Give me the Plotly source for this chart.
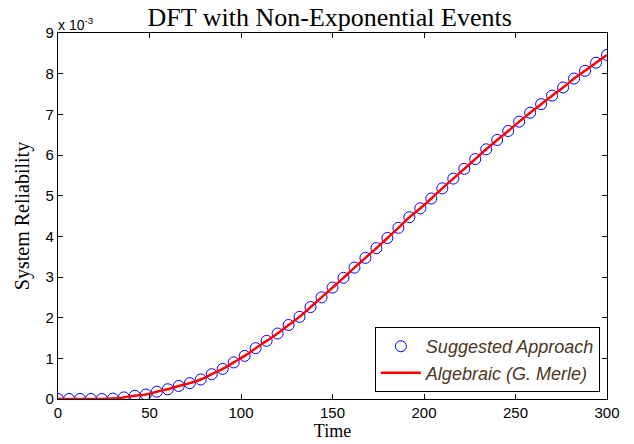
import plotly.graph_objects as go

# Time axis samples (every 6 time units)
time = list(range(0, 301, 6))

# System reliability, in units of 1e-3 (axis multiplier "x 10^-3")
suggested = [0.00, 0.00, 0.00, 0.00, 0.00, 0.01, 0.04, 0.08, 0.11, 0.18,
             0.24, 0.32, 0.39, 0.48, 0.61, 0.74, 0.90, 1.06, 1.25, 1.43,
             1.61, 1.82, 2.02, 2.26, 2.50, 2.74, 2.98, 3.23, 3.47, 3.71,
             3.96, 4.21, 4.47, 4.69, 4.93, 5.18, 5.42, 5.66, 5.90, 6.14,
             6.37, 6.59, 6.82, 7.04, 7.25, 7.46, 7.66, 7.88, 8.07, 8.27,
             8.46]
algebraic = list(suggested)

x_ticks = [0, 50, 100, 150, 200, 250, 300]
y_ticks = [0, 1, 2, 3, 4, 5, 6, 7, 8, 9]
y_ticktext = [str(v) for v in y_ticks]

SERIF = "Liberation Serif, Times New Roman, serif"
SANS = "Liberation Sans, Arial, sans-serif"

fig = go.Figure()
fig.add_trace(go.Scatter(
    x=time, y=suggested, mode="markers", name="Suggested Approach",
    marker=dict(symbol="circle-open", size=11, color="#0000ff",
                line=dict(width=1, color="#0000ff")),
))
fig.add_trace(go.Scatter(
    x=time, y=algebraic, mode="lines", name="Algebraic (G. Merle)",
    line=dict(color="#ff0000", width=2.5, shape="spline"),
))

axis_common = dict(
    showgrid=False, zeroline=False, showline=True, linecolor="black",
    linewidth=1.3, mirror="ticks", ticks="inside", ticklen=5,
    tickcolor="black", tickwidth=1, automargin=False,
    tickfont=dict(family=SANS, size=15, color="black"),
)

fig.update_layout(
    width=634, height=444,
    margin=dict(l=58, r=27, t=33, b=45),
    paper_bgcolor="white", plot_bgcolor="white",
    title=dict(text="DFT with Non-Exponential Events",
               font=dict(family=SERIF, size=26, color="black"),
               x=0.52, xanchor="center", y=0.963, yanchor="middle"),
    xaxis=dict(range=[0, 300], tickvals=x_ticks,
               title=dict(text="Time", font=dict(family=SERIF, size=18, color="black"),
                          standoff=4),
               **axis_common),
    yaxis=dict(range=[0, 9], tickvals=y_ticks, ticktext=y_ticktext,
               title=dict(text="System Reliability",
                          font=dict(family=SERIF, size=20, color="black"),
                          standoff=10),
               **axis_common),
    legend=dict(x=0.987, y=0.019, xanchor="right", yanchor="bottom",
                bgcolor="white", bordercolor="black", borderwidth=1,
                font=dict(family=SANS, size=18, color="#4b3621",
                          style="italic"),
                itemwidth=40, tracegroupgap=0),
    showlegend=True,
    annotations=[dict(
        text="x 10<sup>-3</sup>", xref="paper", yref="paper",
        x=0, y=1, xanchor="left", yanchor="bottom", showarrow=False,
        font=dict(family=SANS, size=14, color="black"), xshift=-2, yshift=-2,
    )],
)

fig.write_html("out.html",
               config={"displayModeBar": False},
               post_script="document.body.style.margin='0';"
                           "document.body.style.overflow='hidden';")
